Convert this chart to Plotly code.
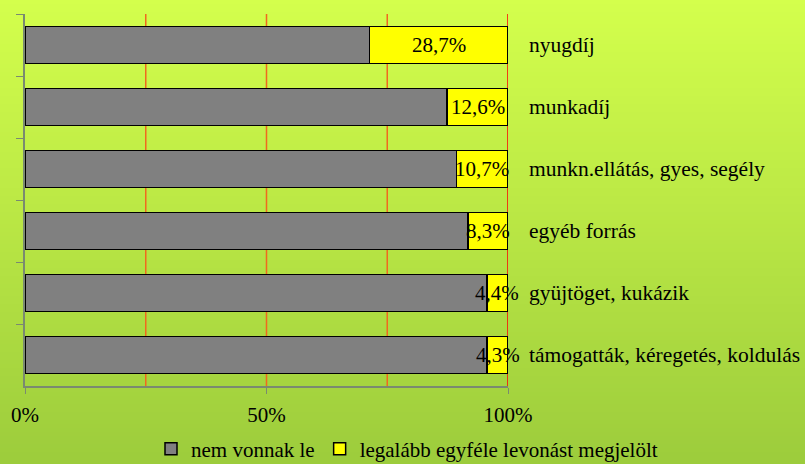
import plotly.graph_objects as go

categories = ["nyugdíj", "munkadíj", "munkn.ellátás, gyes, segély", "egyéb forrás",
              "gyüjtöget, kukázik", "támogatták, kéregetés, koldulás"]
yes_values = [28.7, 12.6, 10.7, 8.3, 4.4, 4.3]
no_values = [round(100 - v, 1) for v in yes_values]
yes_labels = ["28,7%", "12,6%", "10,7%", "8,3%", "4,4%", "4,3%"]
series_names = ["nem vonnak le", "legalább egyféle levonást megjelölt"]
tick_vals = [0, 50, 100]
tick_text = ["0%", "50%", "100%"]

FONT = "Liberation Serif"
FS = 21

fig = go.Figure()
fig.add_trace(go.Bar(y=categories, x=no_values, orientation="h", name=series_names[0],
                     marker=dict(color="#808080", line=dict(color="#000000", width=1.5)),
                     width=0.6, hoverinfo="skip"))
fig.add_trace(go.Bar(y=categories, x=yes_values, orientation="h", name=series_names[1],
                     marker=dict(color="#ffff00", line=dict(color="#000000", width=1.5)),
                     width=0.6, hoverinfo="skip"))

annotations = []
for c, v, lab in zip(categories, yes_values, yes_labels):
    annotations.append(dict(x=100 - v / 2, y=c, xref="x", yref="y", text=lab,
                            showarrow=False, xanchor="center", yanchor="middle",
                            font=dict(family=FONT, size=FS, color="#000000")))
    annotations.append(dict(x=100, y=c, xref="x", yref="y", text=c, xshift=19,
                            showarrow=False, xanchor="left", yanchor="middle",
                            font=dict(family=FONT, size=FS + 0.5, color="#000000")))

# background vertical gradient built from thin strips
W, H = 805, 464
L, R, T, B = 25, 297, 14, 78
pw, ph = W - L - R, H - T - B
top = (0xd4, 0xff, 0x4c)
bot = (0x9c, 0xcc, 0x3c)
shapes = []
N = 116
for i in range(N):
    f = (i + 0.5) / N
    col = tuple(round(top[k] + (bot[k] - top[k]) * f) for k in range(3))
    py0 = i * H / N
    py1 = (i + 1) * H / N + 0.6
    shapes.append(dict(type="rect", xref="paper", yref="paper",
                       x0=-L / pw - 0.01, x1=(W - L) / pw + 0.01,
                       y0=1 - (py1 - T) / ph, y1=1 - (py0 - T) / ph,
                       fillcolor="rgb(%d,%d,%d)" % col, line=dict(width=0), layer="below"))
for gx, gc in [(25, "#f06a1e"), (50, "#f06a1e"), (75, "#f06a1e"), (100, "#ff0000")]:
    shapes.append(dict(type="line", xref="x", yref="paper", x0=gx, x1=gx, y0=0, y1=1,
                       line=dict(color=gc, width=1.5), layer="below"))

fig.update_layout(
    width=W, height=H,
    margin=dict(l=L, r=R, t=T, b=B, autoexpand=False),
    barmode="stack",
    bargap=0.4,
    paper_bgcolor="#c0e846",
    plot_bgcolor="rgba(0,0,0,0)",
    font=dict(family=FONT, size=FS, color="#000000"),
    showlegend=True,
    legend=dict(orientation="h", x=(663 - L) / pw, y=-(449 - (H - B)) / ph,
                xanchor="right", yanchor="middle",
                font=dict(family=FONT, size=FS, color="#000000"),
                bgcolor="rgba(0,0,0,0)", traceorder="normal", itemclick=False),
    annotations=annotations,
    shapes=shapes,
    xaxis=dict(range=[0, 100], tickvals=tick_vals, ticktext=tick_text,
               showgrid=False, zeroline=False, showline=True, linecolor="#7a8a70",
               linewidth=1.5, ticks="outside", ticklen=6, tickcolor="#7a8a70",
               ticklabelstandoff=3, fixedrange=True,
               tickfont=dict(family=FONT, size=FS, color="#000000")),
    yaxis=dict(categoryorder="array", categoryarray=categories, autorange="reversed",
               showticklabels=False, showgrid=False, zeroline=False, showline=True,
               linecolor="#7a8a70", linewidth=1.5, ticks="outside", ticklen=7,
               tickcolor="#7a8a70", tickson="boundaries", fixedrange=True),
)

fig.write_html("out.html", config={"displayModeBar": False},
               post_script="document.body.style.margin='0';document.body.style.padding='0';")
